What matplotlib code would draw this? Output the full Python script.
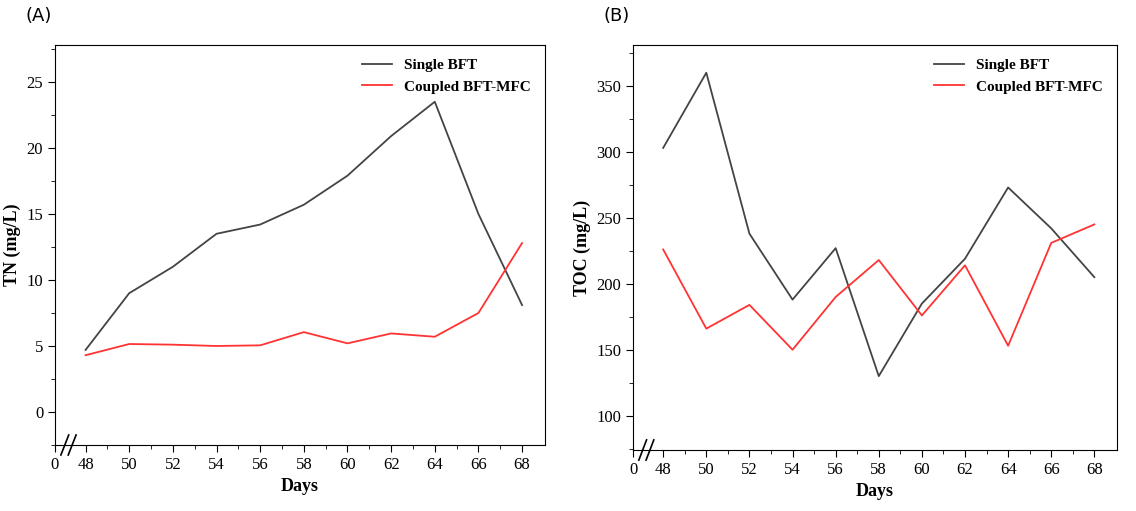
import matplotlib.pyplot as plt
from matplotlib.ticker import MultipleLocator

plt.rcParams['font.family'] = ['Liberation Serif', 'DejaVu Serif']

days = [48, 50, 52, 54, 56, 58, 60, 62, 64, 66, 68]
tn_single = [4.7, 9.0, 11.0, 13.5, 14.2, 15.7, 17.9, 20.9, 23.5, 15.0, 8.1]
tn_coupled = [4.3, 5.15, 5.1, 5.0, 5.05, 6.05, 5.2, 5.95, 5.7, 7.5, 12.8]
toc_single = [303, 360, 238, 188, 227, 130, 185, 219, 273, 242, 205]
toc_coupled = [226, 166, 184, 150, 190, 218, 176, 214, 153, 231, 245]

W, H = 1136, 511
fig = plt.figure(figsize=(W / 100, H / 100), dpi=100)
axA = fig.add_axes([55 / W, 1 - 445 / H, 490 / W, 400 / H])
axB = fig.add_axes([633 / W, 1 - 450 / H, 484 / W, 405 / H])

x0 = 46.6


def style(ax, single, coupled, ylab, ylim, major, minor, tag):
    ax.plot(days, single, color='#444444', lw=1.3, label='Single BFT')
    ax.plot(days, coupled, color='#ff3333', lw=1.3, label='Coupled BFT-MFC')
    ax.set_xlim(x0, 69.05)
    ax.set_ylim(*ylim)
    ax.set_xticks([x0] + days)
    ax.set_xticklabels(['0'] + [str(d) for d in days])
    ax.set_xticks(list(range(49, 68, 2)), minor=True)
    ax.yaxis.set_major_locator(MultipleLocator(major))
    ax.yaxis.set_minor_locator(MultipleLocator(minor))
    ax.tick_params(labelsize=12)
    ax.tick_params(which='major', length=5)
    ax.tick_params(which='minor', length=3)
    ax.set_xlabel('Days', fontsize=13, fontweight='bold')
    ax.set_ylabel(ylab, fontsize=13, fontweight='bold')
    ax.legend(loc='upper right', frameon=False,
              prop={'weight': 'bold', 'size': 11})
    # axis break marks
    kw = dict(transform=ax.transAxes, color='k', lw=1.2, clip_on=False)
    for dx in (0.02, 0.035):
        ax.plot([dx - 0.008, dx + 0.008], [-0.025, 0.025], **kw)
    ax.text(-0.06, 1.06, tag, transform=ax.transAxes, fontsize=13,
            family='DejaVu Sans')


style(axA, tn_single, tn_coupled, 'TN (mg/L)', (-2.5, 27.8), 5, 2.5, '(A)')
style(axB, toc_single, toc_coupled, 'TOC (mg/L)', (74, 381), 50, 25, '(B)')

fig.savefig('out.png', dpi=100)
